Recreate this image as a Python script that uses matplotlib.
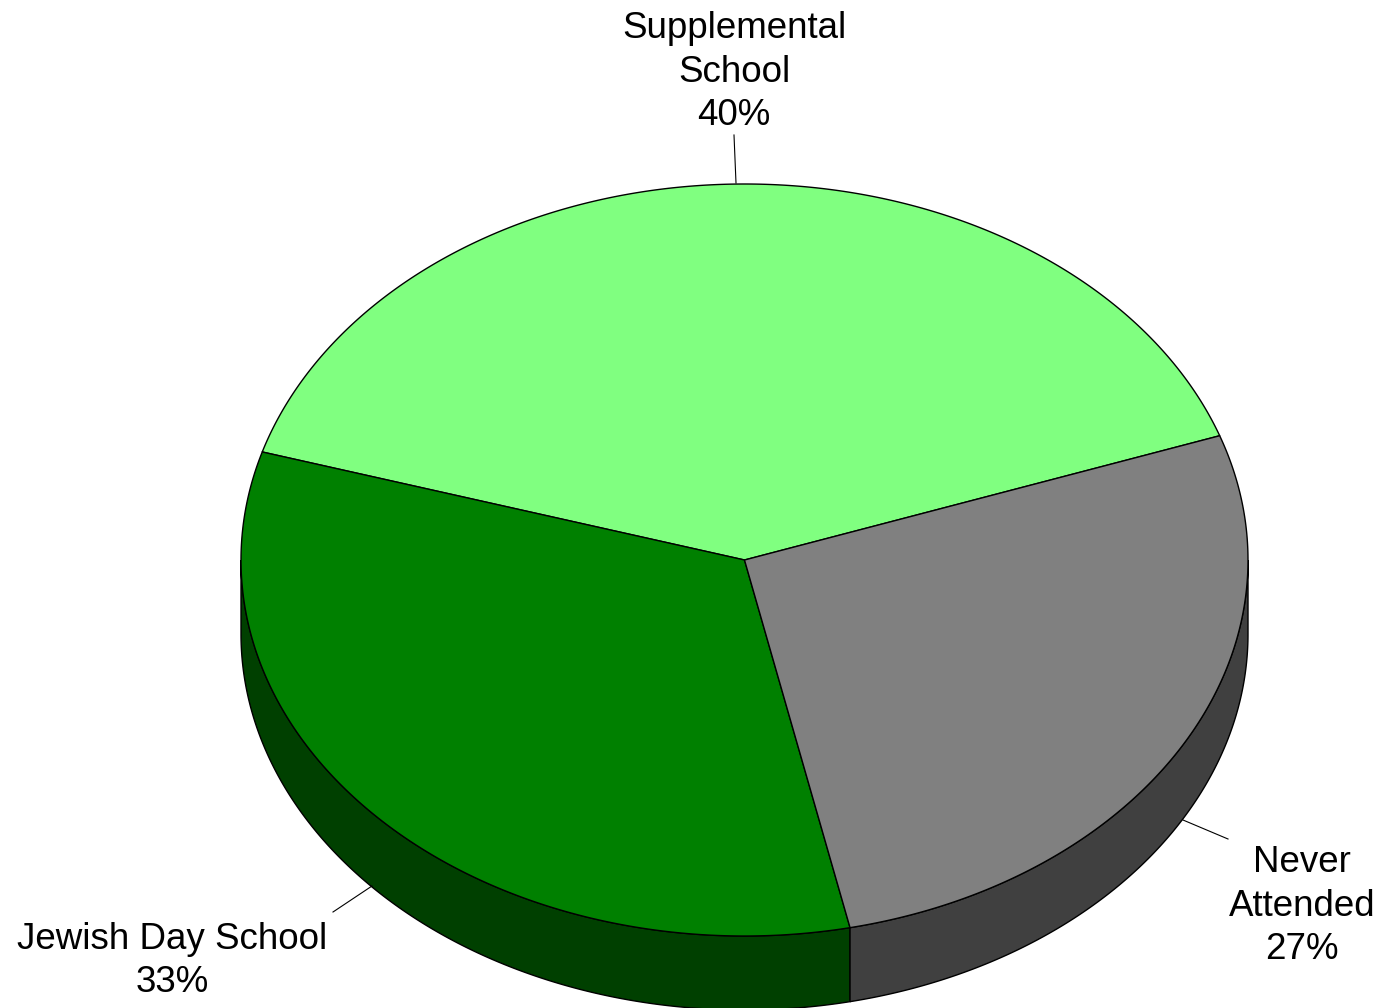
import numpy as np
import matplotlib
matplotlib.use("Agg")
from matplotlib import pyplot as plt
from matplotlib.patches import Polygon

plt.rcParams['font.family'] = ['Liberation Sans', 'DejaVu Sans']

# data
labels = ['Supplemental\nSchool', 'Jewish Day School', 'Never\nAttended']
values = [40, 33, 27]
top_colors = ['#80FF80', '#008000', '#808080']
side_colors = ['#80FF80', '#004000', '#404040']

# pie geometry in pixel coords
cx, cy = 744.5, 560
rx, ry = 503.5, 376
depth = 74
start = 19.3

fig = plt.figure(figsize=(13.82, 10.08), dpi=100)
ax = fig.add_axes([0, 0, 1, 1])
ax.set_xlim(0, 1382)
ax.set_ylim(1008, 0)
ax.axis('off')


def pt(t, dy=0):
    r = np.radians(t)
    return cx + rx * np.cos(r), cy - ry * np.sin(r) + dy


angles = [start]
for v in values:
    angles.append(angles[-1] + v / sum(values) * 360)

# side walls (front half only: 180..360 deg)
for i in range(len(values)):
    a0, a1 = angles[i], angles[i + 1]
    for off in (0, 360):
        s0, s1 = max(a0, 180 + off), min(a1, 360 + off)
        if s1 <= s0:
            continue
        t = np.linspace(s0, s1, 200)
        upper = [pt(a) for a in t]
        lower = [pt(a, depth) for a in t[::-1]]
        ax.add_patch(Polygon(upper + lower, closed=True, facecolor=side_colors[i],
                             edgecolor='black', linewidth=1, zorder=1))

# top faces
for i in range(len(values)):
    t = np.linspace(angles[i], angles[i + 1], 300)
    pts = [(cx, cy)] + [pt(a) for a in t]
    ax.add_patch(Polygon(pts, closed=True, facecolor=top_colors[i],
                         edgecolor='black', linewidth=1, zorder=2))

# labels with leader lines
fs = 26.5
ax.plot([734, 736], [135, 183], color='black', linewidth=0.8)
ax.text(734, 72, '%s\n%d%%' % (labels[0], values[0]), ha='center', va='center',
        fontsize=fs, linespacing=1.3)

ax.plot([333, 372], [912, 886], color='black', linewidth=0.8)
ax.text(172, 961, '%s\n%d%%' % (labels[1], values[1]), ha='center', va='center',
        fontsize=fs, linespacing=1.3)

ax.plot([1183, 1228], [820, 839], color='black', linewidth=0.8)
ax.text(1302, 906, '%s\n%d%%' % (labels[2], values[2]), ha='center', va='center',
        fontsize=fs, linespacing=1.3)

fig.savefig('out.png', dpi=100)
